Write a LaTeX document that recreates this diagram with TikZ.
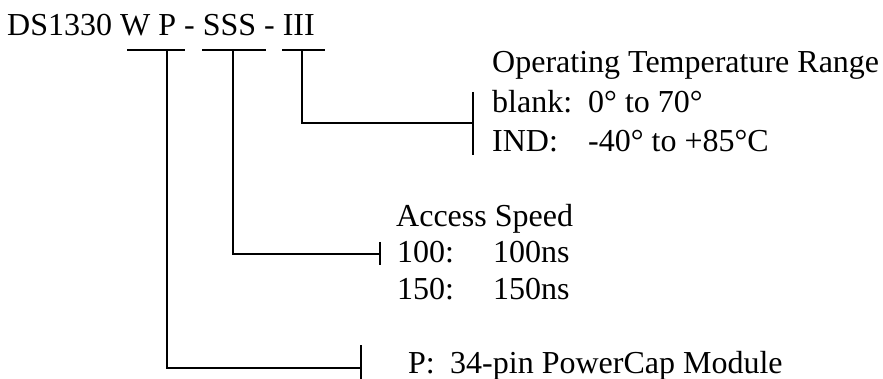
\documentclass[tikz,border=0pt]{standalone}
\usepackage{fontspec}
\setmainfont{Liberation Serif}
\begin{document}
\begin{tikzpicture}[x=1pt,y=-1pt,
  txt/.style={inner sep=0pt,anchor=base west,font=\fontsize{32}{38}\selectfont},
  ln/.style={line width=1.6pt}]
\useasboundingbox (0,0) rectangle (883,379);
% title
\node[txt] (title) at (7,36) {DS1330 W P - SSS - III};
% overlines
\coordinate (pA) at (127,50); \coordinate (pB) at (185,50);
\coordinate (sA) at (202,50); \coordinate (sB) at (266,50);
\coordinate (iA) at (282,50); \coordinate (iB) at (325,50);
\draw[ln] (pA) -- (pB);
\draw[ln] (sA) -- (sB);
\draw[ln] (iA) -- (iB);
\coordinate (pTop) at (167,50); \coordinate (sTop) at (233,50); \coordinate (iTop) at (302,50);
% temperature
\coordinate (iEnd) at (473,123);
\coordinate (iT1) at (473,92); \coordinate (iT2) at (473,155);
\draw[ln] (iTop) |- (iEnd);
\draw[ln] (iT1) -- (iT2);
\node[txt] (op) at (492,73) {Operating Temperature Range};
\node[txt] (bl) at (492,113) {blank:};
\node[txt] (blv) at (588,113) {0° to 70°};
\node[txt] (ind) at (492,152) {IND:};
\node[txt] (indv) at (588,152) {-40° to +85°C};
% speed
\coordinate (sEnd) at (380,254);
\coordinate (sT1) at (380,242); \coordinate (sT2) at (380,265);
\draw[ln] (sTop) |- (sEnd);
\draw[ln] (sT1) -- (sT2);
\node[txt] (acc) at (396,227) {Access Speed};
\node[txt] (s1) at (397,263) {100:};
\node[txt] (s1v) at (493,263) {100ns};
\node[txt] (s2) at (397,299) {150:};
\node[txt] (s2v) at (493,299) {150ns};
% package
\coordinate (pEnd) at (361,368);
\coordinate (pT1) at (361,345); \coordinate (pT2) at (361,379);
\draw[ln] (pTop) |- (pEnd);
\draw[ln] (pT1) -- (pT2);
\node[txt] (pk) at (408,373) {P:};
\node[txt] (pkv) at (450,373) {34-pin PowerCap Module};
\end{tikzpicture}
\end{document}
